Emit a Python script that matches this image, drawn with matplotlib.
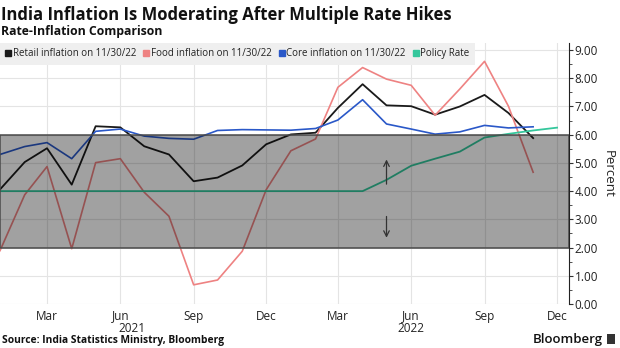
import matplotlib.pyplot as plt
import matplotlib.dates as mdates
import matplotlib.ticker as mticker
import pandas as pd
from matplotlib.lines import Line2D
from matplotlib.patches import Rectangle

# monthly data, Jan 2021 .. Nov 2022 (policy rate runs to Dec 2022)
months = pd.date_range('2021-01-01', '2022-11-01', freq='MS')
retail = [4.06, 5.03, 5.52, 4.23, 6.30, 6.26, 5.59, 5.30, 4.35, 4.48, 4.91, 5.66,
          6.01, 6.07, 6.95, 7.79, 7.04, 7.01, 6.71, 7.00, 7.41, 6.77, 5.88]
food = [1.89, 3.87, 4.87, 1.96, 5.01, 5.15, 3.96, 3.11, 0.68, 0.85, 1.87, 4.05,
        5.43, 5.85, 7.68, 8.38, 7.97, 7.75, 6.69, 7.62, 8.60, 7.01, 4.67]
core = [5.30, 5.58, 5.72, 5.15, 6.12, 6.20, 5.95, 5.87, 5.84, 6.15, 6.18, 6.17,
        6.16, 6.22, 6.52, 7.24, 6.38, 6.20, 6.02, 6.10, 6.33, 6.24, 6.28]
policy_months = pd.date_range('2021-01-01', '2022-12-01', freq='MS')
policy = [4.0, 4.0, 4.0, 4.0, 4.0, 4.0, 4.0, 4.0, 4.0, 4.0, 4.0, 4.0,
          4.0, 4.0, 4.0, 4.0, 4.4, 4.9, 5.15, 5.4, 5.9, 6.03, 6.15, 6.25]

labels = ['Retail inflation on 11/30/22', 'Food inflation on 11/30/22',
          'Core inflation on 11/30/22', 'Policy Rate']
colors = ['#1a1a1a', '#ee8282', '#2a58c8', '#34c79c']
band_low, band_high = 2.0, 6.0

plt.rcParams['font.family'] = ['Open Sans', 'DejaVu Sans']
txt = '#222222'

fig = plt.figure(figsize=(6.2, 3.48), dpi=100)
ax = fig.add_axes([0, 44 / 348, 569 / 620, 261 / 348])

ax.plot(months, retail, color=colors[0], lw=1.3, zorder=2)
ax.plot(months, food, color=colors[1], lw=1.2, zorder=2)
ax.plot(months, core, color=colors[2], lw=1.2, zorder=2)
ax.plot(policy_months, policy, color=colors[3], lw=1.3, zorder=2)

# tolerance band drawn over the lines, semi transparent
x0 = mdates.date2num(pd.Timestamp('2021-01-01'))
x1 = mdates.date2num(pd.Timestamp('2022-12-16'))
ax.add_patch(Rectangle((x0, band_low), x1 - x0, band_high - band_low,
                       facecolor=(0, 0, 0, 0.37), edgecolor='#4a4a4a',
                       lw=1.1, zorder=3))

arrow_x = pd.Timestamp('2022-05-01')
ax.annotate('', xy=(arrow_x, 5.22), xytext=(arrow_x, 4.15),
            arrowprops=dict(arrowstyle='->', color='#333333', lw=0.9), zorder=5)
ax.annotate('', xy=(arrow_x, 2.25), xytext=(arrow_x, 3.2),
            arrowprops=dict(arrowstyle='->', color='#333333', lw=0.9), zorder=5)

ax.set_xlim(x0, x1)
ax.set_ylim(0, 9.25)

ax.xaxis.set_major_locator(mdates.MonthLocator(bymonth=[3, 6, 9, 12]))
ax.xaxis.set_major_formatter(mdates.DateFormatter('%b'))
ax.tick_params(axis='x', length=0, pad=4, labelsize=8.5, labelcolor=txt)

ax.yaxis.tick_right()
ax.yaxis.set_label_position('right')
ax.yaxis.set_major_locator(mticker.MultipleLocator(1))
ax.yaxis.set_minor_locator(mticker.MultipleLocator(0.5))
ax.yaxis.set_major_formatter(mticker.FormatStrFormatter('%.2f'))
ax.tick_params(axis='y', which='major', length=3, pad=1, labelsize=8.5,
               labelcolor=txt, color='#333333')
ax.tick_params(axis='y', which='minor', length=2, color='#333333')
ax.set_ylabel('Percent', rotation=270, labelpad=12, fontsize=9.5, color=txt)

for s in ['left', 'top', 'bottom']:
    ax.spines[s].set_visible(False)
ax.spines['right'].set_color('#222222')
ax.grid(True, which='major', color='#e4e4e4', lw=0.8, zorder=0)
ax.set_axisbelow(True)

trans = ax.get_xaxis_transform()
ax.text(pd.Timestamp('2021-06-16'), -0.092, '2021', transform=trans,
        ha='center', va='center', fontsize=8.5, color=txt)
ax.text(pd.Timestamp('2022-06-01'), -0.092, '2022', transform=trans,
        ha='center', va='center', fontsize=8.5, color=txt)

handles = [Line2D([], [], marker='s', ls='', color=c, markersize=5) for c in colors]
leg = ax.legend(handles, labels, loc='upper left', bbox_to_anchor=(0, 1),
                ncol=4, fontsize=7.0, frameon=True, facecolor='#efefef',
                edgecolor='none', fancybox=False, framealpha=1,
                handlelength=0.6, handletextpad=0.2, columnspacing=0.7,
                borderaxespad=0, borderpad=0.55)
leg.set_zorder(10)
for t in leg.get_texts():
    t.set_color(txt)

fig.text(0.002, 1 - 15 / 348, 'India Inflation Is Moderating After Multiple Rate Hikes',
         fontsize=12.0, fontweight='bold', color='#111111', va='center')
fig.text(0.002, 1 - 32 / 348, 'Rate-Inflation Comparison',
         fontsize=8.8, fontweight='bold', color='#111111', va='center')
fig.text(0.003, 1 - 340 / 348, 'Source: India Statistics Ministry, Bloomberg',
         fontsize=7.4, fontweight='bold', color='#111111', va='center')
fig.text(603 / 620, 1 - 339 / 348, 'Bloomberg', fontsize=9.5, fontweight='semibold',
         color='#111111', va='center', ha='right')
fig.patches.append(Rectangle((607 / 620, 1 - 344 / 348), 8 / 620, 10 / 348,
                             transform=fig.transFigure, facecolor='#333333'))

plt.savefig('out.png', dpi=100)
